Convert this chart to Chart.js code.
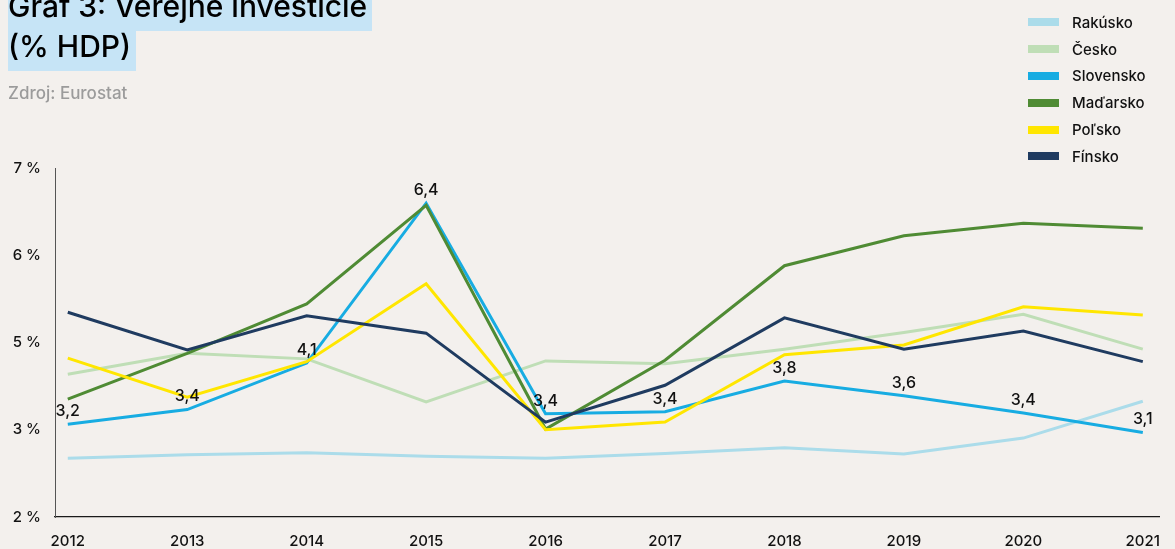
<!DOCTYPE html>
<html lang="sk">
<head>
<meta charset="utf-8">
<title>Graf 3: Verejné investície</title>
<script src="https://cdn.jsdelivr.net/npm/chart.js@4.4.0/dist/chart.umd.min.js"></script>
<style>
  html, body { margin: 0; padding: 0; background: #f3f0ed; overflow: hidden; }
  #wrap { position: relative; width: 1175px; height: 549px; font-family: Inter, "Noto Sans", sans-serif; color: #111; }
  #chartBox { position: absolute; left: 0; top: 0; width: 1175px; height: 549px; }
  .title { position: absolute; left: 8px; top: -9px; }
  .title span { display: block; width: fit-content; font-size: 30px; font-weight: 500; line-height: 30px; padding: 0 5px 10px 0; background: #c6e4f6; color: #000; }
  .source { position: absolute; left: 8px; top: 83px; font-size: 17px; font-weight: 500; line-height: 20px; color: #9b9b9b; }
  #legend { position: absolute; left: 1028px; top: 9px; }
  #legend .row { display: flex; align-items: center; height: 26.8px; font-size: 15px; font-weight: 500; }
  #legend .sw { width: 31px; height: 8px; margin-right: 13px; }
</style>
</head>
<body>
<div id="wrap">
  <div id="chartBox"><canvas id="myChart"></canvas></div>
  <div class="title"><span>Graf 3: Verejné investície</span><span>(% HDP)</span></div>
  <div class="source">Zdroj: Eurostat</div>
  <div id="legend"></div>
</div>
<script>
// Years on the x axis
const years = [2012, 2013, 2014, 2015, 2016, 2017, 2018, 2019, 2020, 2021];

// Public investment, % of GDP
const rakusko   = [2.73, 2.78, 2.81, 2.76, 2.73, 2.80, 2.88, 2.79, 3.02, 3.55];
const cesko     = [3.94, 4.24, 4.16, 3.54, 4.13, 4.09, 4.30, 4.54, 4.80, 4.30];
const slovensko = [3.22, 3.43, 4.10, 6.40, 3.37, 3.40, 3.84, 3.63, 3.38, 3.10];
const madarsko  = [3.58, 4.24, 4.95, 6.37, 3.15, 4.14, 5.50, 5.93, 6.11, 6.04];
const polsko    = [4.17, 3.61, 4.12, 5.24, 3.14, 3.25, 4.22, 4.36, 4.91, 4.79];
const finsko    = [4.83, 4.29, 4.78, 4.53, 3.25, 3.78, 4.75, 4.30, 4.56, 4.12];

// Tick labels as printed on the left axis (top to bottom)
const yTickLabels = ['7 %', '6 %', '5 %', '3 %', '2 %'];

const seriesNames  = ['Rakúsko', 'Česko', 'Slovensko', 'Maďarsko', 'Poľsko', 'Fínsko'];
const seriesData   = [rakusko, cesko, slovensko, madarsko, polsko, finsko];
const seriesColors = ['#abdcea', '#bfdeb6', '#17ace2', '#4f8b34', '#ffe600', '#1f3b60'];

Chart.defaults.font.family = 'Inter, "Noto Sans", sans-serif';
Chart.defaults.color = '#111';

// Legend (html, built from the series)
const legendEl = document.getElementById('legend');
seriesNames.forEach((name, i) => {
  const row = document.createElement('div');
  row.className = 'row';
  row.innerHTML = '<div class="sw" style="background:' + seriesColors[i] + '"></div><span>' + name + '</span>';
  legendEl.appendChild(row);
});

// Value labels above the Slovensko line
const valueLabels = {
  id: 'valueLabels',
  afterDatasetsDraw(chart) {
    const ctx = chart.ctx;
    const meta = chart.getDatasetMeta(2);
    ctx.save();
    ctx.font = '500 16px Inter, "Noto Sans", sans-serif';
    ctx.fillStyle = '#111';
    ctx.textAlign = 'center';
    ctx.textBaseline = 'middle';
    meta.data.forEach((pt, i) => {
      ctx.fillText(slovensko[i].toFixed(1).replace('.', ','), pt.x, pt.y - 13);
    });
    ctx.restore();
  }
};

const ctx = document.getElementById('myChart').getContext('2d');
const myChart = new Chart(ctx, {
  type: 'line',
  data: {
    labels: years,
    datasets: seriesNames.map((name, i) => ({
      label: name,
      data: seriesData[i],
      borderColor: seriesColors[i],
      backgroundColor: seriesColors[i],
      borderWidth: 3,
      borderJoinStyle: 'miter',
      pointRadius: 0,
      tension: 0,
      fill: false,
      order: seriesNames.length - i,
      yAxisID: 'y'
    }))
  },
  options: {
    responsive: true,
    maintainAspectRatio: false,
    animation: false,
    events: [],
    layout: { padding: { top: 168, left: 0, right: 0, bottom: 0 } },
    plugins: {
      legend: { display: false },
      tooltip: { enabled: false }
    },
    scales: {
      x: {
        type: 'linear',
        min: 2011.893,
        max: 2021.14,
        grid: { display: false, drawTicks: false },
        border: { display: true, color: '#1a1a1a', width: 1.3 },
        ticks: {
          stepSize: 1,
          includeBounds: false,
          autoSkip: false,
          maxRotation: 0,
          padding: 15,
          font: { size: 15, weight: 500 },
          callback: v => String(v)
        },
        afterFit(scale) { scale.height = 32; }
      },
      y: {
        type: 'linear',
        display: false,
        min: 1.885,
        max: 6.906
      },
      yt: {
        type: 'category',
        position: 'left',
        labels: yTickLabels,
        grid: { display: false, drawTicks: false },
        border: { display: true, color: '#555', width: 1 },
        ticks: { padding: 14, font: { size: 15, weight: 500 } },
        afterFit(scale) { scale.width = 55; }
      }
    }
  },
  plugins: [valueLabels]
});
</script>
</body>
</html>
